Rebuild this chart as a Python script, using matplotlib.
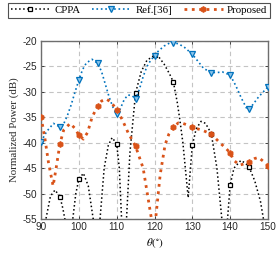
import numpy as np
import matplotlib
matplotlib.use("Agg")
import matplotlib.pyplot as plt

# CPPA
cppa_theta = [90, 91.3, 92.5, 93.7, 95, 95.8, 96.3, 97.3, 98.4, 99.2, 100, 101.2, 102.5, 103.8,
              104.7, 105.6, 106.7, 107.8, 108.8, 110, 110.7, 111.3, 112, 112.6, 113.5, 115, 116.5,
              118, 120, 121, 122.5, 124, 125, 126, 126.7, 127.5, 128.9, 129.5, 130, 131, 132.3,
              133.5, 135, 136.5, 137.8, 138.5, 139.3, 140, 141, 142.8, 144, 145, 146.5, 148,
              148.8, 150]
cppa_db = [-62, -55, -50.5, -49.3, -50.6, -53, -55, -62, -55, -50, -47.2, -46, -48.5, -55,
           -62, -55, -45, -40.5, -39, -40.2, -45, -55, -65, -55, -42, -30.2, -26,
           -23.8, -22.8, -23, -24.5, -26.5, -28.1, -32, -35.5, -40, -50.8, -45, -40.5, -37.3, -35.8,
           -36.2, -38.2, -45, -55, -60, -55, -48.3, -45, -43.5, -44, -44.8, -47.5, -51.5,
           -55, -62]

# Ref.[36]
ref_theta = [90, 91.5, 93.3, 95, 96, 97, 98, 99, 100, 101, 102, 103.5, 105, 106, 107, 108, 109,
             110, 110.8, 112, 113, 114.2, 115, 116, 117, 118, 119, 120, 121, 122.5, 124, 125,
             126.5, 128, 130, 131.5, 133, 135, 136.5, 138, 140, 141.5, 143, 144.4, 145, 146,
             147.5, 150]
ref_db = [-39.8, -37.8, -36.2, -36.9, -36.3, -34.6, -32.5, -30, -27.7, -25.6, -24.3, -23.6, -24.4,
          -26, -28.5, -31, -33, -34.3, -33.6, -31.5, -30.6, -30.8, -31.5, -29.5, -27, -25, -23.8,
          -22.9, -22, -21, -20.4, -20.3, -20.6, -21.3, -22.6, -24, -25.4, -26.2, -26.2, -26.1,
          -26.7, -28.8, -31.3, -33.3, -33.4, -32.5, -31, -29]

# Proposed
prop_theta = [90, 91, 92, 93.2, 94, 95, 96, 97.7, 99, 100, 101.2, 102.3, 103.5, 105, 106, 107.2,
              108.5, 110, 111.5, 113, 115, 117, 118.3, 119.2, 119.7, 120.3, 121.5, 122.8, 123.8,
              125, 126.3, 127.5, 129, 130, 132.5, 135, 137, 139, 140, 141, 142.5, 144, 145,
              146.5, 147.5, 149, 150]
prop_db = [-34.9, -39, -44, -48.5, -45, -40.2, -37.5, -36.2, -37.2, -38.5, -39.3, -38, -35,
           -32.7, -31.8, -31.4, -32, -33.5, -35.5, -38, -40.7, -45, -50.9, -55, -60, -55, -46.3,
           -40.4, -38.3, -36.9, -36.1, -36.2, -36.6, -37, -37.5, -38.3, -39.8, -41.2, -42, -43.5,
           -44.4, -44.1, -43.8, -43.1, -42.9, -43.8, -44.5]

plt.rcParams['axes.unicode_minus'] = False
plt.rcParams['mathtext.fontset'] = 'stix'
serif = 'Liberation Serif'

fig = plt.figure(figsize=(2.78, 2.57), dpi=100)
ax = fig.add_axes([41 / 278, 1 - 219 / 257, 227 / 278, 178 / 257])


def every5(th):
    return [i for i, t in enumerate(th) if abs(t % 5) < 1e-9]


ax.plot(cppa_theta, cppa_db, ':', color='black', lw=1.1, marker='s', ms=3.3,
        mfc='white', mec='black', mew=0.9, markevery=every5(cppa_theta), label='CPPA', zorder=3)
ax.plot(ref_theta, ref_db, ':', color='#0072BD', lw=1.2, marker='v', ms=3.8,
        mfc='#8cc4ea', mec='#0072BD', mew=0.9, markevery=every5(ref_theta), label='Ref.[36]', zorder=3)
ax.plot(prop_theta, prop_db, ':', color='#D95319', lw=2.0, marker='h', ms=4.2,
        mfc='#D95319', mec='#D95319', mew=0.6, markevery=every5(prop_theta), label='Proposed', zorder=3)

ax.set_xlim(90, 150)
ax.set_ylim(-55, -20)
ax.set_xticks(np.arange(90, 151, 10))
ax.set_yticks(np.arange(-55, -19, 5))
ax.grid(True, ls=(0, (4, 3)), color='#c4c4c4', lw=0.8)
ax.set_axisbelow(True)
ax.tick_params(direction='in', length=2.5, width=0.6, labelsize=7.2, top=True, right=True,
               colors='#262626', pad=2.5)
for lbl in ax.get_xticklabels() + ax.get_yticklabels():
    lbl.set_family('Liberation Sans')
for sp in ax.spines.values():
    sp.set_color('#6e6e6e')
    sp.set_linewidth(1.0)

ax.set_xlabel(r'$\theta(^{\circ})$', fontsize=8, labelpad=2.5)
ax.set_ylabel('Normalized Power (dB)', family=serif, fontsize=7.8, labelpad=3, color='#262626')

leg = fig.legend(loc='lower left', bbox_to_anchor=(8 / 278, 1 - 18 / 257, 262 / 278, 15 / 257),
                 mode='expand', ncol=3, prop={'family': serif, 'size': 7.8}, frameon=True,
                 fancybox=False, borderpad=0.25, handlelength=3.6, handletextpad=0.4,
                 columnspacing=0.6, borderaxespad=0)
leg.get_frame().set_edgecolor('#262626')
leg.get_frame().set_linewidth(0.8)

fig.savefig('out.png', dpi=100)
